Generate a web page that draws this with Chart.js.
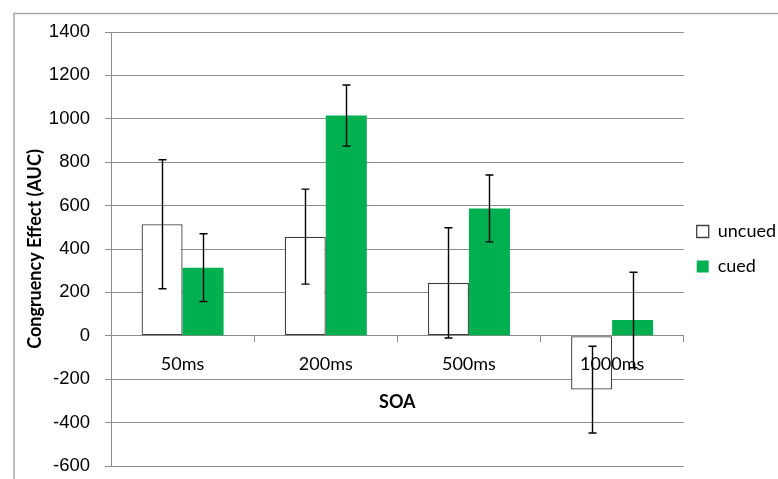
<!DOCTYPE html>
<html>
<head>
<meta charset="utf-8">
<script src="https://cdn.jsdelivr.net/npm/chart.js@4/dist/chart.umd.min.js"></script>
<style>
  html, body { margin: 0; padding: 0; background: #ffffff; }
  #wrap { width: 778px; height: 479px; position: relative; }
</style>
</head>
<body>
<div id="wrap"><canvas id="chart" width="778" height="479"></canvas></div>
<script>
// SOA conditions and congruency effects (AUC) with error bar half-widths
const categories = ['50ms', '200ms', '500ms', '1000ms'];
const uncued = [514, 457, 244, -248];
const cued = [314, 1015, 587, 73];
const uncuedErr = [297, 219, 254, 200];
const cuedErr = [156, 141, 154, 220];
const yTicks = [-600, -400, -200, 0, 200, 400, 600, 800, 1000, 1200, 1400];

const GRID = '#8c8c8c';
const GREEN = '#00b050';

// Whiskers drawn from each bar's value +/- its error
const errorBars = {
  id: 'errorBars',
  afterDraw(chart) {
    const ctx = chart.ctx;
    const y = chart.scales.y;
    ctx.save();
    ctx.strokeStyle = '#000000';
    ctx.lineWidth = 1.4;
    chart.data.datasets.forEach((ds, di) => {
      const meta = chart.getDatasetMeta(di);
      meta.data.forEach((bar, i) => {
        const v = ds.data[i];
        const e = ds.errors[i];
        const x = Math.round(bar.x) + 0.5;
        const yTop = y.getPixelForValue(v + e);
        const yBot = y.getPixelForValue(v - e);
        const cap = 4;
        ctx.beginPath();
        ctx.moveTo(x, yTop); ctx.lineTo(x, yBot);
        ctx.moveTo(x - cap, yTop); ctx.lineTo(x + cap, yTop);
        ctx.moveTo(x - cap, yBot); ctx.lineTo(x + cap, yBot);
        ctx.stroke();
      });
    });
    ctx.restore();
  }
};

// Light frame around the whole chart
const frame = {
  id: 'frame',
  beforeDraw(chart) {
    const ctx = chart.ctx;
    ctx.save();
    ctx.strokeStyle = '#a6a6a6';
    ctx.lineWidth = 1.5;
    ctx.beginPath();
    ctx.moveTo(14, chart.height + 5);
    ctx.lineTo(14, 13.5);
    ctx.lineTo(chart.width + 5, 13.5);
    ctx.stroke();
    ctx.restore();
  }
};

// Pull the legend a little closer to the plot so its labels fit
const legendNudge = {
  id: 'legendNudge',
  afterLayout(chart) {
    if (chart.legend) {
      chart.legend.left -= 4;
      chart.legend.right -= 4;
    }
  }
};

new Chart(document.getElementById('chart'), {
  type: 'bar',
  data: {
    labels: categories,
    datasets: [
      {
        label: 'uncued',
        data: uncued,
        errors: uncuedErr,
        backgroundColor: '#ffffff',
        borderColor: '#404040',
        borderWidth: 1.3,
        borderSkipped: false,
        categoryPercentage: 0.573,
        barPercentage: 1.0
      },
      {
        label: 'cued',
        data: cued,
        errors: cuedErr,
        backgroundColor: GREEN,
        borderColor: GREEN,
        borderWidth: 0,
        categoryPercentage: 0.573,
        barPercentage: 1.0
      }
    ]
  },
  options: {
    responsive: false,
    animation: false,
    devicePixelRatio: 1,
    layout: { padding: { left: 0, top: 32, right: -12, bottom: 13 } },
    plugins: {
      tooltip: { enabled: false },
      legend: {
        position: 'right',
        labels: {
          font: { family: 'Lato', size: 18 },
          color: '#000000',
          boxWidth: 12,
          boxHeight: 12,
          padding: 17
        }
      }
    },
    scales: {
      x: {
        position: { y: 0 },
        grid: {
          display: true,
          drawOnChartArea: false,
          drawTicks: true,
          tickLength: 6,
          offset: true,
          color: GRID
        },
        border: { display: true, color: GRID, width: 1 },
        ticks: {
          z: 1,
          font: { family: 'Lato', size: 18 },
          color: '#000000',
          padding: 12
        },
        title: {
          display: true,
          text: 'SOA',
          font: { family: 'Lato', size: 18, weight: 'bold' },
          color: '#000000',
          padding: { top: 4, bottom: 0 }
        }
      },
      y: {
        min: -600,
        max: 1400,
        afterBuildTicks(scale) {
          scale.ticks = yTicks.map(v => ({ value: v }));
        },
        afterFit(scale) {
          scale.width = 111;
          scale.paddingTop = 0;
          scale.paddingBottom = 0;
        },
        grid: {
          color: GRID,
          lineWidth: 1,
          drawTicks: true,
          tickLength: 6
        },
        border: { display: true, color: GRID, width: 1 },
        ticks: {
          font: { family: 'Liberation Sans', size: 18.5 },
          color: '#000000',
          padding: 15,
          callback: (v) => String(v)
        },
        title: {
          display: true,
          text: 'Congruency Effect (AUC)',
          font: { family: 'Lato', size: 18, weight: 'bold' },
          color: '#000000',
          padding: { top: 24, bottom: 0 }
        }
      }
    }
  },
  plugins: [frame, errorBars, legendNudge]
});
</script>
</body>
</html>
